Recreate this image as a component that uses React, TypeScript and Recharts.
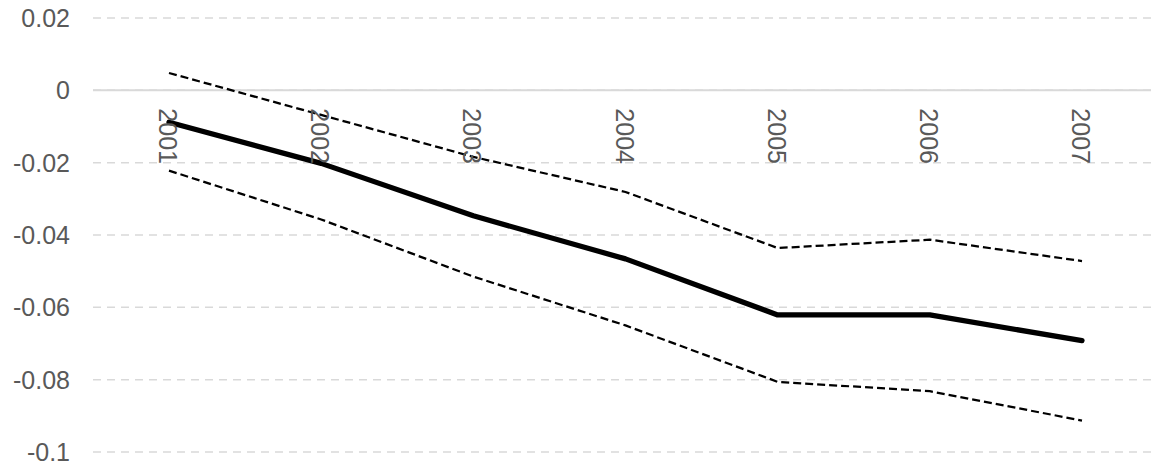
import { LineChart, Line, XAxis, YAxis, CartesianGrid, ReferenceLine } from "recharts"

// values
const years = ["2001", "2002", "2003", "2004", "2005", "2006", "2007"]
const estimate = [-0.0088, -0.0202, -0.0347, -0.0466, -0.0621, -0.0621, -0.0692]
const upper = [0.0048, -0.0068, -0.0184, -0.0281, -0.0436, -0.0413, -0.0472]
const lower = [-0.0222, -0.0357, -0.0515, -0.065, -0.0806, -0.0832, -0.0913]
const yTicks = [-0.1, -0.08, -0.06, -0.04, -0.02, 0, 0.02]

const Y_MIN = -0.1
const Y_MAX = 0.02
const W = 1160
const H = 472
const M = { top: 18, right: 2, bottom: 19, left: 0 }
const FONT = "'Liberation Sans', Arial, sans-serif"

const data = years.map((year, i) => ({
  year,
  estimate: estimate[i],
  upper: upper[i],
  lower: lower[i],
}))

// y pixel of the zero line, from the value scale (x axis takes 1px)
const plotH = H - M.top - M.bottom - 1
const zeroY = M.top + ((Y_MAX - 0) / (Y_MAX - Y_MIN)) * plotH

function YearTick(props: any) {
  const { x, payload } = props
  return (
    <text
      transform={`translate(${x - 10}, ${zeroY + 18}) rotate(90)`}
      textAnchor="start"
      fontSize={25}
      fontFamily={FONT}
      fill="#595959"
    >
      {payload.value}
    </text>
  )
}

export default function App() {
  return (
    <div style={{ position: "absolute", left: 0, top: 0, width: 1151, height: 472, overflow: "hidden", background: "#fff" }}>
      <LineChart width={W} height={H} data={data} margin={M}>
        <CartesianGrid vertical={false} stroke="#d9d9d9" strokeWidth={1.5} strokeDasharray="8 6" />
        <XAxis
          dataKey="year"
          height={1}
          axisLine={false}
          tickLine={false}
          padding={{ left: 76, right: 76 }}
          tick={<YearTick />}
          interval={0}
        />
        <YAxis
          domain={[Y_MIN, Y_MAX]}
          ticks={yTicks}
          width={93}
          axisLine={false}
          tickLine={false}
          tickSize={0}
          tickMargin={23}
          tick={{ fill: "#595959", fontSize: 25, fontFamily: FONT }}
        />
        <ReferenceLine y={0} stroke="#d9d9d9" strokeWidth={2} />
        <Line
          dataKey="upper"
          stroke="#000"
          strokeWidth={2.25}
          strokeDasharray="8 4"
          dot={false}
          isAnimationActive={false}
        />
        <Line
          dataKey="lower"
          stroke="#000"
          strokeWidth={2.25}
          strokeDasharray="8 4"
          dot={false}
          isAnimationActive={false}
        />
        <Line
          dataKey="estimate"
          stroke="#000"
          strokeWidth={5.25}
          strokeLinecap="round"
          strokeLinejoin="round"
          dot={false}
          isAnimationActive={false}
        />
      </LineChart>
    </div>
  )
}
